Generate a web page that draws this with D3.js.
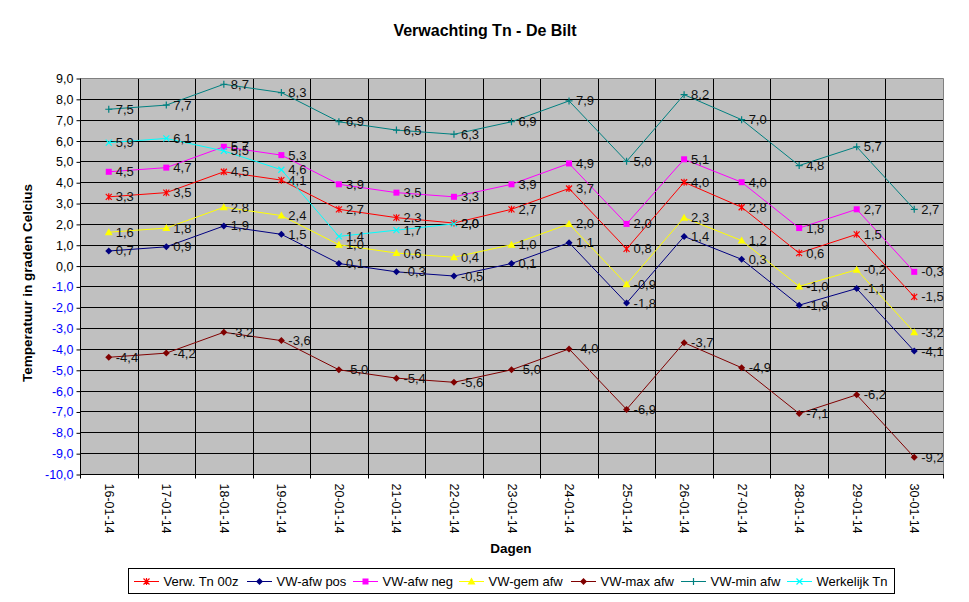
<!DOCTYPE html>
<html>
<head>
<meta charset="utf-8">
<script src="https://cdn.jsdelivr.net/npm/d3@7"></script>
<style>
  body { margin: 0; background: #fff; }
  text { font-family: Arial, "Liberation Sans", sans-serif; }
</style>
</head>
<body>
<div id="graph"></div>
<script>

//----------------------------------------------------------
// data

var g_dates = ["16-01-14", "17-01-14", "18-01-14", "19-01-14", "20-01-14",
               "21-01-14", "22-01-14", "23-01-14", "24-01-14", "25-01-14",
               "26-01-14", "27-01-14", "28-01-14", "29-01-14", "30-01-14"];

var g_verw_tn   = [3.3, 3.5, 4.5, 4.1, 2.7, 2.3, 2.04, 2.7, 3.7, 0.8, 4.0, 2.8, 0.6, 1.5, -1.5];
var g_afw_pos   = [0.7, 0.9, 1.9, 1.5, 0.1, -0.3, -0.5, 0.1, 1.1, -1.8, 1.4, 0.3, -1.9, -1.1, -4.1];
var g_afw_neg   = [4.5, 4.7, 5.7, 5.3, 3.9, 3.5, 3.3, 3.9, 4.9, 2.0, 5.1, 4.0, 1.8, 2.7, -0.3];
var g_gem_afw   = [1.6, 1.8, 2.8, 2.4, 1.0, 0.6, 0.4, 1.0, 2.0, -0.9, 2.3, 1.2, -1.0, -0.2, -3.2];
var g_max_afw   = [-4.4, -4.2, -3.2, -3.6, -5.0, -5.4, -5.6, -5.0, -4.0, -6.9, -3.7, -4.9, -7.1, -6.2, -9.2];
var g_min_afw   = [7.5, 7.7, 8.7, 8.3, 6.9, 6.5, 6.3, 6.9, 7.9, 5.0, 8.2, 7.0, 4.8, 5.7, 2.7];
var g_werkelijk = [5.9, 6.1, 5.5, 4.6, 1.4, 1.7, 2.0, null, null, null, null, null, null, null, null];

var g_y_ticks = d3.range(-10, 10, 1);

var g_series = [
    { name: "Verw. Tn 00z", values: g_verw_tn,   colour: "#ff0000", marker: "star" },
    { name: "VW-afw pos",   values: g_afw_pos,   colour: "#000080", marker: "diamond" },
    { name: "VW-afw neg",   values: g_afw_neg,   colour: "#ff00ff", marker: "square" },
    { name: "VW-gem afw",   values: g_gem_afw,   colour: "#ffff00", marker: "triangle" },
    { name: "VW-max afw",   values: g_max_afw,   colour: "#800000", marker: "diamond" },
    { name: "VW-min afw",   values: g_min_afw,   colour: "#008080", marker: "plus" },
    { name: "Werkelijk Tn", values: g_werkelijk, colour: "#00ffff", marker: "cross" }
];


//----------------------------------------------------------
// layout

var g_plot = { left: 80, right: 943, top: 78, bottom: 474 };

var g_svg = d3.select("#graph")
  .append("svg")
    .attr("width", 969)
    .attr("height", 602);

var g_x = d3.scaleBand()
    .domain(g_dates)
    .range([g_plot.left, g_plot.right])
    .padding(0);

var g_y = d3.scaleLinear()
    .domain([-10, 9])
    .range([g_plot.bottom, g_plot.top]);

function Crisp(v) {
    return Math.round(v) + 0.5;
}

function FormatValue(v) {
    return d3.format(".1f")(v).replace(".", ",").replace("−", "-");
}


//----------------------------------------------------------
// markers

function DrawMarker(sel, type, colour) {
    if (type == "diamond") {
        sel.append("path")
            .attr("d", "M0,-3.5L3.5,0L0,3.5L-3.5,0Z")
            .attr("fill", colour);
    } else if (type == "square") {
        sel.append("rect")
            .attr("x", -3).attr("y", -3)
            .attr("width", 6).attr("height", 6)
            .attr("fill", colour);
    } else if (type == "triangle") {
        sel.append("path")
            .attr("d", "M0,-4L4,3L-4,3Z")
            .attr("fill", colour);
    } else if (type == "plus") {
        sel.append("path")
            .attr("d", "M-3.5,0H3.5M0,-3.5V3.5")
            .attr("stroke", colour).attr("stroke-width", 1.2);
    } else if (type == "cross") {
        sel.append("path")
            .attr("d", "M-3,-3L3,3M-3,3L3,-3")
            .attr("stroke", colour).attr("stroke-width", 1.2);
    } else if (type == "star") {
        sel.append("path")
            .attr("d", "M-3,-3L3,3M-3,3L3,-3M0,-3.5V3.5")
            .attr("stroke", colour).attr("stroke-width", 1.2);
    }
}


//----------------------------------------------------------
// plot area and grid

g_svg.append("rect")
    .attr("x", Crisp(g_plot.left))
    .attr("y", Crisp(g_plot.top))
    .attr("width", Math.round(g_plot.right) - Math.round(g_plot.left))
    .attr("height", Math.round(g_plot.bottom) - Math.round(g_plot.top))
    .attr("fill", "#c0c0c0");

var g_grid = g_svg.append("g");

g_grid.selectAll("line.h")
  .data(g_y_ticks.filter(function (t) { return t > -10 && t < 9; }))
  .join("line")
    .attr("class", "h")
    .attr("x1", g_plot.left).attr("x2", g_plot.right)
    .attr("y1", function (t) { return Crisp(g_y(t)); })
    .attr("y2", function (t) { return Crisp(g_y(t)); })
    .attr("stroke", "#000");

g_grid.selectAll("line.v")
  .data(g_dates.slice(1))
  .join("line")
    .attr("class", "v")
    .attr("x1", function (d) { return Crisp(g_x(d)); })
    .attr("x2", function (d) { return Crisp(g_x(d)); })
    .attr("y1", g_plot.top).attr("y2", g_plot.bottom)
    .attr("stroke", "#000");

// gray border on top and right
g_svg.append("path")
    .attr("d", "M" + Crisp(g_plot.left) + "," + Crisp(g_plot.top) +
               "H" + Crisp(g_plot.right) + "V" + Crisp(g_plot.bottom))
    .attr("fill", "none")
    .attr("stroke", "#808080");


//----------------------------------------------------------
// axes

var g_y_axis = g_svg.append("g")
    .attr("transform", "translate(" + Crisp(g_plot.left) + ",0.5)")
    .call(d3.axisLeft(g_y)
        .tickValues(g_y_ticks)
        .tickSize(4)
        .tickPadding(3)
        .tickFormat(FormatValue));

g_y_axis.select(".domain").attr("stroke", "#000").attr("d",
    "M0," + Math.round(g_plot.top) + "V" + Math.round(g_plot.bottom));
g_y_axis.selectAll(".tick line").attr("stroke", "#000")
    .attr("transform", function () { return "translate(0," + 0 + ")"; });
g_y_axis.selectAll(".tick text")
    .attr("font-size", "12.5px")
    .attr("font-family", "Arial, 'Liberation Sans', sans-serif")
    .attr("fill", function (t) { return t < 0 ? "#0000ff" : "#000"; });

var g_x_axis = g_svg.append("g")
    .attr("transform", "translate(0," + Crisp(g_plot.bottom) + ")");

g_x_axis.append("line")
    .attr("x1", Math.round(g_plot.left)).attr("x2", Math.round(g_plot.right) + 1)
    .attr("stroke", "#000");

g_x_axis.selectAll("line.tick")
  .data(g_dates.concat(["end"]))
  .join("line")
    .attr("class", "tick")
    .attr("x1", function (d) { return Crisp(d == "end" ? g_plot.right : g_x(d)); })
    .attr("x2", function (d) { return Crisp(d == "end" ? g_plot.right : g_x(d)); })
    .attr("y1", 0).attr("y2", 4)
    .attr("stroke", "#000");

g_x_axis.selectAll("text")
  .data(g_dates)
  .join("text")
    .attr("transform", function (d) {
        return "translate(" + (g_x(d) + g_x.bandwidth() / 2) + ",9) rotate(90)";
    })
    .attr("dominant-baseline", "central")
    .attr("font-size", "12.5px")
    .text(function (d) { return d; });


//----------------------------------------------------------
// series

var g_line = d3.line()
    .defined(function (d) { return d.v != null; })
    .x(function (d) { return g_x(d.date) + g_x.bandwidth() / 2; })
    .y(function (d) { return g_y(d.v); });

function Points(series) {
    return series.values.map(function (v, i) {
        return { date: g_dates[i], v: v };
    }).filter(function (d) { return d.v != null; });
}

var g_lines = g_svg.append("g");

g_series.forEach(function (s) {
    var grp = g_lines.append("g");
    grp.append("path")
        .datum(Points(s))
        .attr("d", g_line)
        .attr("fill", "none")
        .attr("stroke", s.colour)
        .attr("stroke-width", 1);

    grp.selectAll("g.marker")
      .data(Points(s))
      .join("g")
        .attr("class", "marker")
        .attr("transform", function (d) {
            return "translate(" + (g_x(d.date) + g_x.bandwidth() / 2) + "," + g_y(d.v) + ")";
        })
        .each(function () {
            DrawMarker(d3.select(this), s.marker, s.colour);
        });
});

var g_labels = g_svg.append("g");

g_series.forEach(function (s) {
    g_labels.selectAll(null)
      .data(Points(s))
      .join("text")
        .attr("x", function (d) { return g_x(d.date) + g_x.bandwidth() / 2 + 7; })
        .attr("y", function (d) { return g_y(d.v); })
        .attr("dominant-baseline", "central")
        .attr("font-size", "13px")
        .attr("fill", "#111")
        .text(function (d) { return FormatValue(d.v); });
});


//----------------------------------------------------------
// titles

g_svg.append("text")
    .attr("x", 485).attr("y", 36)
    .attr("text-anchor", "middle")
    .attr("font-size", "16px")
    .attr("font-weight", "bold")
    .text("Verwachting Tn - De Bilt");

g_svg.append("text")
    .attr("transform", "translate(32,283) rotate(-90)")
    .attr("text-anchor", "middle")
    .attr("font-size", "13.5px")
    .attr("font-weight", "bold")
    .text("Temperatuur in graden Celcius");

g_svg.append("text")
    .attr("x", 511).attr("y", 553)
    .attr("text-anchor", "middle")
    .attr("font-size", "13.5px")
    .attr("font-weight", "bold")
    .text("Dagen");


//----------------------------------------------------------
// legend

var g_legend_x = [134, 247, 353, 459, 571, 681, 787];

var g_legend = g_svg.append("g");

g_legend.append("rect")
    .attr("x", 128.5).attr("y", 568.5)
    .attr("width", 766).attr("height", 25)
    .attr("fill", "#fff")
    .attr("stroke", "#000");

var g_items = g_legend.selectAll("g.item")
  .data(g_series)
  .join("g")
    .attr("class", "item")
    .attr("transform", function (s, i) {
        return "translate(" + g_legend_x[i] + ",581)";
    });

g_items.append("line")
    .attr("x1", 0).attr("x2", 25)
    .attr("y1", 0.5).attr("y2", 0.5)
    .attr("stroke", function (s) { return s.colour; });

g_items.append("g")
    .attr("transform", "translate(12.5,0.5)")
    .each(function (s) {
        DrawMarker(d3.select(this), s.marker, s.colour);
    });

g_items.append("text")
    .attr("x", 29.5).attr("y", 0.5)
    .attr("dominant-baseline", "central")
    .attr("font-size", "13px")
    .text(function (s) { return s.name; });

</script>
</body>
</html>
